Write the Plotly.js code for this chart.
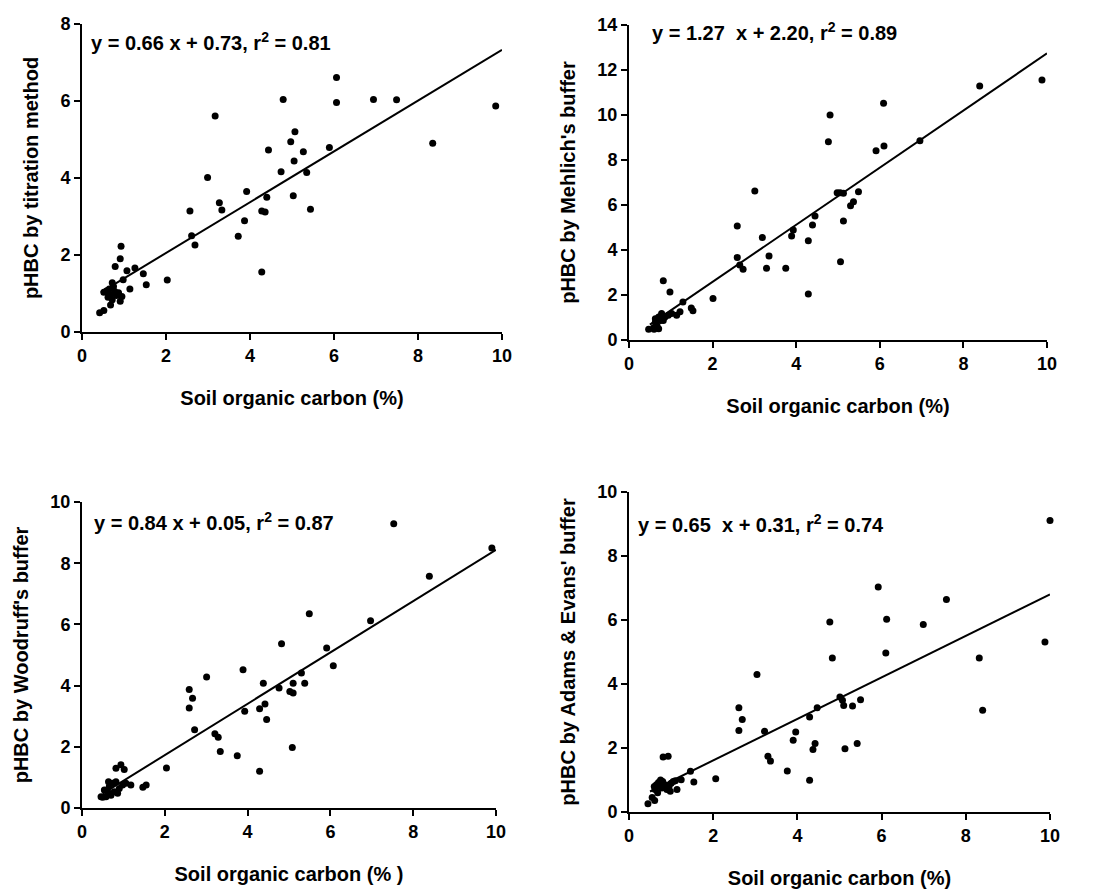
<!DOCTYPE html>
<html>
<head>
<meta charset="utf-8">
<script src="https://cdn.plot.ly/plotly-3.0.1.min.js"></script>
<style>html,body{margin:0;padding:0;background:#fff;}</style>
</head>
<body>
<div id="chart" style="width:1095px;height:895px;"></div>
<script>
// ---------- DATA ----------
const xTitle = "Soil organic carbon (%)";
const xTitle3 = "Soil organic carbon (% )";
const yTitles = ["pHBC by titration method", "pHBC by Mehlich's buffer", "pHBC by Woodruff's buffer", "pHBC by Adams & Evans' buffer"];
const equations = ["y = 0.66 x + 0.73, r<sup>2</sup> = 0.81", "y = 1.27  x + 2.20, r<sup>2</sup> = 0.89", "y = 0.84 x + 0.05, r<sup>2</sup> = 0.87", "y = 0.65  x + 0.31, r<sup>2</sup> = 0.74"];
const yMax = [8, 14, 10, 10];
const xTicks = [0, 2, 4, 6, 8, 10];

// Panel 1: titration method
const p1x = [6.06, 6.06, 4.79, 6.94, 7.49, 9.85, 3.17, 8.35, 5.07, 4.97, 5.89, 4.44, 5.27, 5.05, 4.74, 5.35, 2.99, 3.92, 4.40, 5.03, 3.27, 3.33, 2.57, 4.28, 4.36, 5.44, 3.87, 2.61, 3.72, 2.69, 4.28, 2.03,
  0.93, 0.91, 0.79, 1.26, 1.07, 1.46, 0.98, 1.53, 1.14, 0.72, 0.60, 0.52, 0.68, 0.87, 0.95, 0.72, 0.91, 0.68, 0.52, 0.42, 0.65, 0.78, 0.62, 0.75, 0.82, 0.57];
const p1y = [6.61, 5.96, 6.04, 6.04, 6.03, 5.87, 5.61, 4.90, 5.20, 4.94, 4.79, 4.73, 4.68, 4.44, 4.16, 4.14, 4.01, 3.65, 3.50, 3.54, 3.36, 3.17, 3.14, 3.14, 3.12, 3.19, 2.89, 2.50, 2.49, 2.26, 1.56, 1.35,
  2.23, 1.90, 1.70, 1.66, 1.59, 1.51, 1.36, 1.23, 1.12, 1.28, 1.08, 1.03, 0.97, 1.02, 0.92, 0.84, 0.80, 0.70, 0.56, 0.50, 1.12, 1.05, 0.90, 1.18, 0.95, 1.05];
const p1LineX = [0.45, 10];
const p1LineY = [1.03, 7.33];

// Panel 2: Mehlich's buffer
const p2x = [9.88, 8.39, 6.09, 4.81, 4.77, 6.96, 5.91, 6.10, 3.01, 5.49, 5.05, 4.98, 5.13, 5.37, 5.30, 4.45, 4.39, 5.13, 2.59, 3.19, 3.93, 3.89, 4.29, 2.59, 3.35, 2.65, 2.73, 3.29, 3.75, 5.06, 4.29, 2.01,
  0.82, 0.98, 1.29, 1.49, 1.53, 0.47, 0.59, 0.63, 0.71, 0.78, 0.67, 0.75, 0.86, 0.94, 1.02, 1.14, 1.22, 0.60, 0.71, 0.82, 0.63];
const p2y = [11.56, 11.29, 10.52, 10.0, 8.81, 8.86, 8.41, 8.62, 6.62, 6.59, 6.55, 6.55, 6.52, 6.15, 5.97, 5.51, 5.11, 5.29, 5.07, 4.56, 4.89, 4.62, 4.41, 3.67, 3.73, 3.33, 3.14, 3.19, 3.19, 3.48, 2.04, 1.85,
  2.63, 2.13, 1.69, 1.42, 1.30, 0.48, 0.55, 0.79, 1.02, 1.18, 0.63, 0.87, 1.02, 1.10, 1.18, 1.10, 1.26, 0.48, 0.50, 0.87, 0.94];
const p2LineX = [0.5, 10];
const p2LineY = [0.68, 12.74];

// Panel 3: Woodruff's buffer
const p3x = [7.53, 9.90, 8.39, 6.97, 5.49, 4.82, 5.91, 6.07, 3.89, 5.30, 3.01, 4.38, 5.10, 5.38, 4.76, 5.02, 5.10, 2.59, 2.67, 2.59, 4.42, 4.29, 3.93, 4.46, 2.72, 3.21, 3.29, 3.34, 3.75, 5.08, 4.29, 2.04,
  0.94, 0.82, 1.02, 1.18, 1.55, 1.47, 0.50, 0.58, 0.62, 0.66, 0.74, 0.82, 0.54, 0.70, 0.90, 0.98, 1.06, 0.78, 0.46, 0.64, 0.86];
const p3y = [9.29, 8.50, 7.57, 6.12, 6.35, 5.37, 5.23, 4.65, 4.52, 4.41, 4.28, 4.08, 4.08, 4.08, 3.92, 3.81, 3.76, 3.87, 3.59, 3.27, 3.40, 3.24, 3.16, 2.89, 2.56, 2.43, 2.31, 1.85, 1.71, 1.98, 1.20, 1.31,
  1.41, 1.30, 1.26, 0.75, 0.75, 0.68, 0.35, 0.37, 0.53, 0.70, 0.81, 0.86, 0.59, 0.42, 0.64, 0.75, 0.81, 0.53, 0.37, 0.86, 0.48];
const p3LineX = [0.5, 10];
const p3LineY = [0.47, 8.44];

// Panel 4: Adams & Evans' buffer
const p4x = [10.0, 9.88, 5.92, 7.54, 4.77, 6.12, 6.99, 6.10, 4.83, 8.32, 8.40, 3.04, 5.01, 5.07, 5.50, 5.10, 5.31, 4.47, 2.61, 2.69, 4.29, 2.61, 3.22, 3.96, 3.90, 4.42, 4.37, 5.42, 5.13, 3.30, 3.36, 3.76, 4.29,
  2.06, 1.54, 1.46, 0.81, 0.93, 1.24, 1.14, 0.45, 0.61, 0.55, 0.62, 0.65, 0.70, 0.75, 0.80, 0.72, 0.85, 0.95, 1.00, 1.05, 0.90, 0.98, 0.68, 0.60, 0.78, 1.10];
const p4y = [9.11, 5.31, 7.03, 6.64, 5.94, 6.02, 5.86, 4.97, 4.81, 4.81, 3.18, 4.30, 3.59, 3.49, 3.51, 3.33, 3.31, 3.26, 3.26, 2.89, 2.97, 2.55, 2.52, 2.50, 2.24, 2.14, 1.95, 2.14, 1.98, 1.74, 1.59, 1.28, 0.99,
  1.04, 0.94, 1.27, 1.72, 1.74, 1.01, 0.70, 0.26, 0.36, 0.45, 0.70, 0.85, 0.92, 1.00, 0.95, 0.80, 0.85, 0.80, 0.90, 0.95, 0.70, 0.65, 0.60, 0.80, 0.75, 0.98];
const p4LineX = [0.5, 10];
const p4LineY = [0.64, 6.80];

// ---------- LAYOUT ----------
const W = 1095, H = 895;
const FONT = "Liberation Sans, Arial, sans-serif";
// plot-area boxes in pixels [left, right, top, bottom]
const boxes = [[82, 502, 24, 332], [629, 1047, 25, 340], [82, 496, 502, 808], [629, 1050, 492, 812]];
const eqPos = [[89, 41], [650, 32], [92, 521], [636, 523]];

const px = [p1x, p2x, p3x, p4x], py = [p1y, p2y, p3y, p4y];
const lx = [p1LineX, p2LineX, p3LineX, p4LineX], ly = [p1LineY, p2LineY, p3LineY, p4LineY];

const traces = [];
const layout = {
  width: W, height: H,
  margin: {l: 0, r: 0, t: 0, b: 0},
  paper_bgcolor: "#fff", plot_bgcolor: "#fff",
  showlegend: false,
  font: {family: FONT, color: "#000"},
  annotations: []
};

for (let i = 0; i < 4; i++) {
  const s = i === 0 ? "" : String(i + 1);
  const b = boxes[i];
  traces.push({
    type: "scatter", mode: "markers", x: px[i], y: py[i],
    xaxis: "x" + s, yaxis: "y" + s,
    marker: {color: "#000", size: 7, symbol: "circle"},
    cliponaxis: false, hoverinfo: "x+y"
  });
  traces.push({
    type: "scatter", mode: "lines", x: lx[i], y: ly[i],
    xaxis: "x" + s, yaxis: "y" + s,
    line: {color: "#000", width: 2}, hoverinfo: "skip"
  });
  const yTicks = [];
  for (let v = 0; v <= yMax[i]; v += 2) yTicks.push(v);
  const common = {
    showline: true, linecolor: "#000", linewidth: 2,
    ticks: "outside", ticklen: 6, tickwidth: 2, tickcolor: "#000",
    showgrid: false, zeroline: false, fixedrange: true,
    tickfont: {family: FONT, size: 18, weight: "bold", color: "#000"}
  };
  layout["xaxis" + s] = Object.assign({}, common, {
    domain: [b[0] / W, b[1] / W], range: [0, 10],
    tickvals: xTicks, anchor: "y" + s,
    title: {text: i === 2 ? xTitle3 : xTitle, font: {family: FONT, size: 20, weight: "bold", color: "#000"}, standoff: 26}
  });
  layout["yaxis" + s] = Object.assign({}, common, {
    domain: [1 - b[3] / H, 1 - b[2] / H], range: [0, yMax[i]],
    tickvals: yTicks, anchor: "x" + s,
    title: {text: yTitles[i], font: {family: FONT, size: 20, weight: "bold", color: "#000"}, standoff: 16}
  });
  layout.annotations.push({
    xref: "paper", yref: "paper",
    x: eqPos[i][0] / W, y: 1 - eqPos[i][1] / H,
    xanchor: "left", yanchor: "middle", showarrow: false,
    text: equations[i],
    font: {family: FONT, size: 20, weight: "bold", color: "#000"}
  });
}

Plotly.newPlot("chart", traces, layout, {displayModeBar: false, staticPlot: true});
</script>
</body>
</html>
